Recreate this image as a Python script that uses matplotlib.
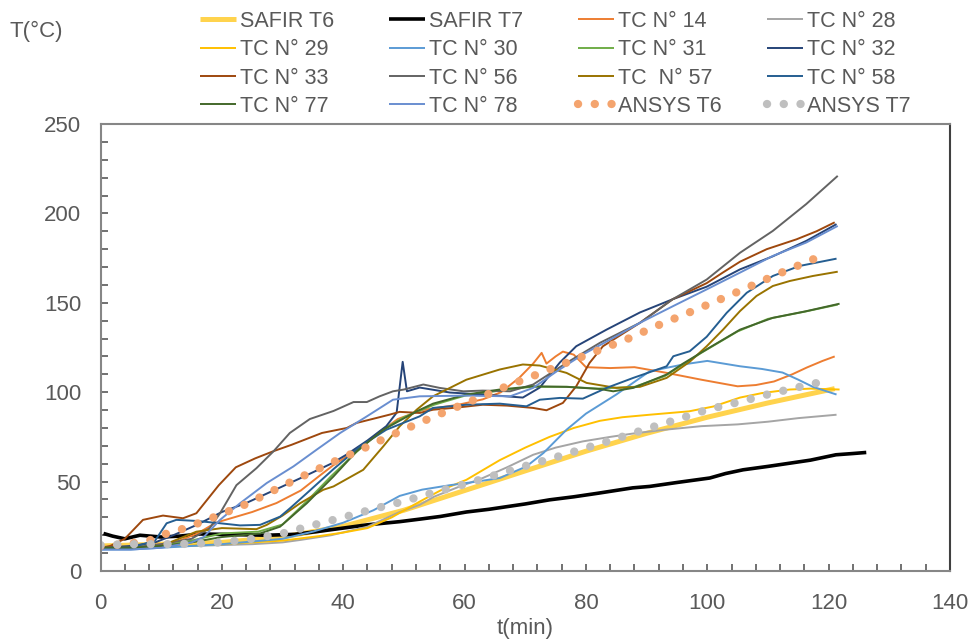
import matplotlib
matplotlib.use("Agg")
import matplotlib.pyplot as plt
from matplotlib.ticker import MultipleLocator

plt.rcParams['font.family'] = ['Liberation Sans', 'DejaVu Sans']

# ---------------- data ----------------
safir_t6_t = [0, 10, 20, 30, 40, 50, 60, 70, 80, 90, 100, 110, 121]
safir_t6 = [14, 15, 16, 19, 25, 34, 45, 56, 67, 77, 86, 94, 102]

safir_t7_t = [0.5, 2, 4, 6.5, 10, 13, 16.4, 20, 27.4, 32, 35.6, 40, 43.9, 49.3, 52.6, 56, 60.3, 64, 67, 70, 74, 78, 82,
              87.7, 90.5, 95, 100.4, 103, 105.9, 110, 114, 117, 121.2, 124, 126.2]
safir_t7 = [21, 19.5, 18, 20, 19, 19.5, 20.7, 20.5, 20, 20.5, 22, 24, 25.8, 27.6, 29, 30.5, 33, 34.5, 36, 37.5, 39.8, 41.5,
            43.5, 46.5, 47.3, 49.5, 52, 54.5, 56.6, 58.5, 60.5, 62, 65, 65.7, 66.3]

tc14_t = [0, 5, 10, 13, 16, 19, 22, 25, 29, 33, 36, 38.3, 41, 45, 49, 53, 59, 63, 66, 69, 71.3, 72.7, 73.5, 75, 76.2, 78,
          80, 84, 88, 93, 99, 105, 108, 111, 114, 116.4, 119, 121]
tc14 = [13, 13, 15, 17, 21, 27, 30, 33, 38, 45, 53, 59, 65, 75, 85, 90, 93, 96, 100, 108, 116, 122, 116, 120, 122.7, 121,
        114, 113.5, 114, 111, 107, 103.3, 104, 106, 110, 113.8, 117.5, 120]

tc28_t = [0, 5, 10, 15, 20, 25, 30, 33, 38, 44, 49.3, 52.6, 55, 59, 63, 67, 71.3, 75, 79.5, 84, 88, 93, 99, 105, 110, 115,
          121.3]
tc28 = [13, 13, 13.5, 14, 14.5, 15, 16, 17.4, 20, 24.8, 33, 37, 41.6, 47, 52, 58, 65, 69, 72.5, 75, 77, 79, 81, 82, 83.5,
        85.5, 87.4]

tc29_t = [0, 10, 20, 30, 36, 40, 44, 48, 52.6, 56, 60.3, 65.8, 70, 74, 78, 82.3, 86, 90.5, 97, 101, 105.4, 109, 113.6,
          117, 121.8]
tc29 = [13, 13.5, 15, 17, 19.5, 21.5, 24, 30, 38.8, 45, 51, 62, 69, 75, 80, 84, 86, 87.4, 89.3, 92, 97, 99.5, 101.5, 102,
        101.5]

tc30_t = [0, 5, 10, 20, 30, 35, 40, 45, 49.3, 53, 57.6, 62, 65.8, 70.2, 73, 76.8, 80, 85, 90.5, 96, 100, 105.4, 109, 112.4,
          115, 117.4, 121.3]
tc30 = [12, 12, 13, 15, 18, 22, 27, 34, 42, 45.5, 48, 50, 52, 58.5, 66, 79, 88, 98.7, 111.7, 115.5, 117.5, 114.5, 113, 111,
        107, 103, 98.7]

tc31_t = [0, 10, 15, 20, 26, 30, 34, 38, 42, 46, 50, 55, 60, 66, 71, 77, 82, 88, 93, 99, 105, 110, 116, 121.5]
tc31 = [13, 14, 17, 21, 22, 26, 39, 53, 66, 78, 86, 93, 98, 101, 103, 103, 102, 103, 109, 122, 134, 141, 145, 149]

tc32_t = [0, 5, 9, 12, 16, 20, 24, 28.5, 33, 38, 40.5, 44, 47.1, 48.8, 49.8, 50.5, 52.6, 57.6, 63, 69.6, 72.4, 75.7, 78.4,
          83.4, 88.9, 94.3, 99.9, 105.4, 110.8, 116.3, 121.3]
tc32 = [13, 14, 16, 20, 26, 33, 38, 45, 52, 60, 65, 73, 81, 88.5, 117, 100.5, 102.6, 99.8, 98.7, 97, 102.6, 116.6, 125.7,
        135, 144.6, 152, 159, 168.7, 176, 184.6, 194]

tc33_t = [0, 1.6, 4, 7, 10.3, 13.6, 15.8, 19.5, 22.3, 25.5, 28.5, 31.5, 36.5, 40.6, 42.2, 45.5, 47.7, 49.3, 52.6, 54.8, 59,
          63, 67, 71.3, 73.5, 76.2, 78.4, 80.6, 82.8, 88.9, 94.3, 99.9, 102.6, 105.4, 109.8, 114.7, 118, 121]
tc33 = [13, 14, 18, 28.6, 31, 29.5, 32.3, 48, 58, 63, 67, 70.6, 77.2, 80, 82.8, 85.6, 87.5, 89, 88.4, 90.2, 91.5, 93, 92.5,
        91.2, 89.9, 94, 103.3, 116.4, 125.7, 138.8, 152, 161, 167, 173, 180, 185.5, 190, 195]

tc56_t = [0, 5, 10, 15, 18, 19.7, 22.4, 25.7, 28.5, 31.2, 34.5, 38.4, 41.7, 43.9, 46, 48.2, 50, 53.2, 55.9, 59.8, 63, 67.5,
          71.3, 76.8, 82.3, 88.9, 94.3, 99.9, 105.4, 110.8, 116.3, 121.5]
tc56 = [13, 13, 15, 18, 24, 32.3, 48, 57.5, 66.9, 77.2, 85, 89.5, 94.5, 94.5, 97.7, 100.5, 101.5, 104.3, 102.4, 100.5,
        100.9, 100.5, 104.3, 116.4, 127.6, 138.8, 152, 163, 178, 190.2, 205.2, 221]

tc57_t = [0, 5, 10, 15.8, 20, 25.7, 27.4, 30, 32.9, 36.7, 38.4, 43.3, 46.6, 49.3, 52.1, 54.8, 60.3, 65.8, 69.6, 72.4, 76.8,
          80.1, 85, 88.9, 93.3, 97.1, 99.9, 102.6, 105.4, 108.1, 110.8, 113.6, 117.4, 121.5]
tc57 = [13, 13, 14, 22, 24, 23.4, 25.8, 31, 37.9, 45.4, 47.3, 56.6, 69.7, 80.9, 90.2, 97.7, 107, 112.7, 115.5, 114.9,
        110.8, 105.2, 102.4, 103, 108, 117, 125.7, 135, 145.4, 153.8, 159.4, 162.2, 165, 167.4]

tc58_t = [0, 5, 9, 10.9, 12.5, 15.8, 19.7, 23, 26.3, 29.6, 31.2, 34, 38.4, 42.8, 47.1, 52.6, 54.8, 60.3, 65.8, 70.2, 72.4,
          75.7, 79.5, 83.4, 87.8, 93.3, 94.4, 97.1, 99.9, 103.2, 106.5, 110.8, 115.2, 121.3]
tc58 = [13, 13, 17, 26.7, 28.6, 28, 26.7, 25.5, 25.8, 30.4, 35, 43.5, 57, 69.7, 79, 86.5, 91.2, 93, 93.6, 92.1, 95.8, 96.8,
        96.4, 102.4, 108, 114.5, 120.1, 122.9, 131, 144.4, 155.6, 165, 170.6, 174.7]

tc77_t = [0, 5, 10, 15, 20, 26.3, 29.6, 34, 38.4, 42.2, 46.6, 52.1, 54.8, 60.3, 65.8, 71.3, 76.8, 82.3, 84.5, 87.8, 93.3,
          96, 99.9, 105.4, 110.8, 116.3, 121.8]
tc77 = [13, 13, 14, 16, 19, 21, 24.8, 37.9, 52.9, 66.9, 79, 89.3, 93.6, 98.7, 101.5, 103.3, 103, 101.8, 100.5, 102.4,
        109.9, 116, 124, 135, 141.6, 145.3, 149.5]

tc78_t = [0, 5, 10, 15, 17, 19.7, 23, 27.4, 31.8, 35.6, 39.5, 43.9, 48.2, 52.6, 60.3, 67.5, 71.3, 75.2, 79.5, 85, 88.9,
          94.4, 99.9, 105.4, 110.8, 116.3, 121.5]
tc78 = [12, 12, 13, 16, 19, 28.6, 37.9, 49.2, 58.5, 67.8, 77.2, 86.5, 95.8, 97.7, 98.1, 97.7, 102.4, 111.7, 121.1, 131.3,
        138.8, 148.2, 157.5, 166.9, 176.2, 183.7, 193]

ansys_t6_t = [0, 4, 8, 10, 14, 19, 24, 28.5, 33, 38, 43, 48, 52.5, 57.6, 62.4, 67.2, 72, 77, 82, 87, 91.8, 96.6, 101.5,
              106.4, 111.2, 116, 119]
ansys_t6 = [14, 15, 17, 20, 24, 30.5, 37.4, 45, 52.5, 60.4, 68, 76, 82.8, 90.2, 96.8, 103.7, 110, 116.8, 123.3, 130,
            137.3, 144, 151, 158.2, 165.4, 172.3, 176.5]

ansys_t7_t = [0, 5, 10, 15, 20, 25, 30, 35, 40, 45, 50, 55, 60, 65, 70, 75, 80, 85, 90, 95, 100, 105, 110, 115, 119.5]
ansys_t7 = [14.5, 15, 15, 15.2, 16, 18, 21, 25.6, 30, 34.7, 39, 44, 48.5, 53.6, 58.7, 63.6, 68.8, 74, 79.5, 84.7, 90.2,
            94.3, 98.8, 102.8, 106.3]

x_ticks = [0, 20, 40, 60, 80, 100, 120, 140]
y_ticks = [0, 50, 100, 150, 200, 250]

# ---------------- styling ----------------
TXT = '#595959'
series = [
    ("SAFIR T6", safir_t6_t, safir_t6, dict(color='#FFD34D', lw=3.6)),
    ("SAFIR T7", safir_t7_t, safir_t7, dict(color='black', lw=2.6)),
    ("TC N° 14", tc14_t, tc14, dict(color='#ED7D31', lw=1.4)),
    ("TC N° 28", tc28_t, tc28, dict(color='#A5A5A5', lw=1.4)),
    ("TC N° 29", tc29_t, tc29, dict(color='#FFC000', lw=1.4)),
    ("TC N° 30", tc30_t, tc30, dict(color='#5B9BD5', lw=1.4)),
    ("TC N° 31", tc31_t, tc31, dict(color='#70AD47', lw=1.4)),
    ("TC N° 32", tc32_t, tc32, dict(color='#264478', lw=1.4)),
    ("TC N° 33", tc33_t, tc33, dict(color='#9E480E', lw=1.4)),
    ("TC N° 56", tc56_t, tc56, dict(color='#636363', lw=1.4)),
    ("TC  N° 57", tc57_t, tc57, dict(color='#997300', lw=1.4)),
    ("TC N° 58", tc58_t, tc58, dict(color='#255E91', lw=1.4)),
    ("TC N° 77", tc77_t, tc77, dict(color='#43682B', lw=1.4)),
    ("TC N° 78", tc78_t, tc78, dict(color='#698ED0', lw=1.4)),
    ("ANSYS T6", ansys_t6_t, ansys_t6, dict(color='#F4A46E', lw=6, linestyle=(0, (0.01, 2.0)),
                                           dash_capstyle='round')),
    ("ANSYS T7", ansys_t7_t, ansys_t7, dict(color='#BFBFBF', lw=6, linestyle=(0, (0.01, 2.0)),
                                           dash_capstyle='round')),
]

W, H = 973, 641
fig = plt.figure(figsize=(W / 100, H / 100), dpi=100)
ax = fig.add_axes([100.5 / W, 70 / H, (950 - 100.5) / W, (571 - 124) / H])

handles = []
for name, t, v, st in series:
    st = dict(st)
    st.setdefault('solid_capstyle', 'butt')
    h, = ax.plot(t, v, label=name, **st)
    handles.append(h)

ax.set_xlim(0, 140)
ax.set_ylim(0, 250)
ax.set_xticks(x_ticks)
ax.set_yticks(y_ticks)
ax.xaxis.set_minor_locator(MultipleLocator(4))
ax.yaxis.set_minor_locator(MultipleLocator(10))
ax.tick_params(which='both', direction='in', length=5, width=1.2, color='#595959',
               labelsize=16, labelcolor=TXT)
ax.tick_params(axis='y', pad=14)
ax.tick_params(axis='x', pad=16)
for s in ['left', 'bottom', 'top']:
    ax.spines[s].set_color('#868686')
    ax.spines[s].set_linewidth(1.5)
ax.spines['right'].set_color('#404040')
ax.spines['right'].set_linewidth(1.5)

ax.set_xlabel('t(min)', fontsize=16, color=TXT, labelpad=3)
fig.text(10 / W, 1 - 31 / H, 'T(°C)', fontsize=16, color=TXT, va='center', ha='left')

# legend: 4 columns, row-major order like the original
col_x = [200, 389, 578, 767]
for c in range(4):
    hs = [handles[r * 4 + c] for r in range(4)]
    lg = fig.legend(hs, [h.get_label() for h in hs], loc='upper left',
                    bbox_to_anchor=(col_x[c] / W, 1 - 11 / H), frameon=False,
                    fontsize=15.5, borderpad=0, borderaxespad=0, handlelength=1.65,
                    handletextpad=0.2, labelspacing=0.34)
    for txt in lg.get_texts():
        txt.set_color(TXT)

fig.savefig('out.png', dpi=100)
